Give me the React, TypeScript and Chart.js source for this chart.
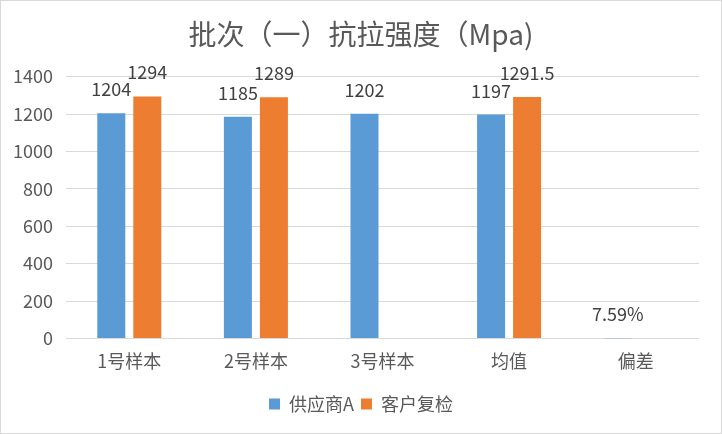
import React, { useEffect, useRef } from "react";
import { Chart, registerables } from "chart.js";

Chart.register(...registerables);

const categories = ["1号样本", "2号样本", "3号样本", "均值", "偏差"];
const supplierA: (number | null)[] = [1204, 1185, 1202, 1197, 0.0759];
const customerCheck: (number | null)[] = [1294, 1289, null, 1291.5, null];
const yTicks = [0, 200, 400, 600, 800, 1000, 1200, 1400];
const titleText = "批次（一）抗拉强度（Mpa)";
const seriesNames = ["供应商A", "客户复检"];

const FONT = '"Noto Sans CJK SC", "Noto Sans", sans-serif';

const labelPlugin = {
  id: "barLabels",
  afterDatasetsDraw(chart: any) {
    const ctx = chart.ctx;
    ctx.save();
    ctx.font = `18px ${FONT}`;
    ctx.fillStyle = "#404040";
    ctx.textAlign = "center";
    ctx.textBaseline = "alphabetic";
    chart.data.datasets.forEach((ds: any, di: number) => {
      const meta = chart.getDatasetMeta(di);
      meta.data.forEach((el: any, i: number) => {
        const v = ds.data[i];
        if (v === null || v === undefined) return;
        const txt =
          categories[i] === "偏差" ? (v * 100).toFixed(2) + "%" : String(v);
        ctx.fillText(txt, el.x, el.y - 17);
      });
    });
    ctx.restore();
  },
};

export default function App() {
  const ref = useRef<HTMLCanvasElement>(null);
  useEffect(() => {
    if (!ref.current) return;
    const chart = new Chart(ref.current, {
      type: "bar",
      data: {
        labels: categories,
        datasets: [
          {
            label: seriesNames[0],
            data: supplierA,
            backgroundColor: "#5B9BD5",
            categoryPercentage: 0.569,
            barPercentage: 0.778,
          },
          {
            label: seriesNames[1],
            data: customerCheck,
            backgroundColor: "#ED7D31",
            categoryPercentage: 0.569,
            barPercentage: 0.778,
          },
        ],
      },
      options: {
        responsive: false,
        animation: false,
        layout: { padding: { left: 11, right: 11, top: 0, bottom: 10 } },
        plugins: {
          title: {
            display: true,
            text: titleText,
            color: "#595959",
            font: { family: FONT, size: 28, weight: "normal" },
            padding: { top: 17, bottom: 25 },
          },
          legend: {
            position: "bottom",
            labels: {
              color: "#595959",
              font: { family: FONT, size: 18 },
              boxWidth: 11,
              boxHeight: 11,
              padding: 7,
            },
          },
          tooltip: { enabled: false },
        },
        scales: {
          x: {
            grid: { display: false, drawTicks: false },
            border: { display: false },
            afterFit: (s: any) => {
              s.paddingRight = 0;
              s.height += 4;
            },
            ticks: {
              color: "#595959",
              font: { family: FONT, size: 18 },
              padding: 12,
            },
          },
          y: {
            min: 0,
            max: 1400,
            afterFit: (s: any) => {
              s.width = 54;
            },
            afterBuildTicks: (s: any) => {
              s.ticks = yTicks.map((v) => ({ value: v }));
            },
            grid: { color: "#d9d9d9", lineWidth: 1, drawTicks: false },
            border: { display: false },
            ticks: {
              color: "#595959",
              font: { family: FONT, size: 18 },
              padding: 13,
              callback: (v: any) => String(v),
            },
          },
          ySpacer: {
            position: "right",
            min: 0,
            max: 1400,
            grid: { display: false, drawTicks: false },
            border: { display: false },
            ticks: { display: false },
            afterFit: (s: any) => {
              s.width = 11;
            },
          },
        },
      },
      plugins: [labelPlugin],
    });
    return () => chart.destroy();
  }, []);
  return (
    <div
      style={{
        position: "absolute",
        left: 0,
        top: 0,
        width: 722,
        height: 434,
        boxSizing: "border-box",
        border: "1px solid #d9d9d9",
        background: "#fff",
      }}
    >
      <canvas ref={ref} width={720} height={432} style={{ display: "block" }} />
    </div>
  );
}
